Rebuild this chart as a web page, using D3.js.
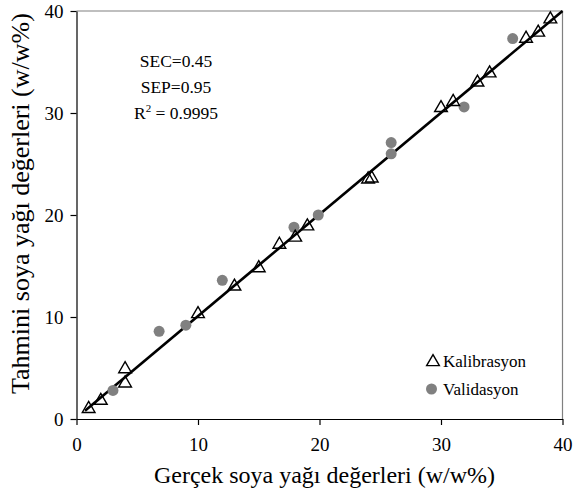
<!DOCTYPE html>
<html>
<head>
<meta charset="utf-8">
<script src="https://cdn.jsdelivr.net/npm/d3@7"></script>
<style>
  html, body { margin: 0; padding: 0; background: #fff; }
  svg { display: block; }
  text { font-family: "Liberation Serif", "Times New Roman", serif; fill: #000; }
</style>
</head>
<body>
<svg id="chart" width="582" height="494"></svg>
<script>
// Calibration set: [actual, predicted]
const kalibrasyon = [
  [1, 1.0], [2, 1.8], [4, 4.9], [4, 3.5], [10, 10.3], [13, 13.0], [15, 14.8],
  [16.7, 17.1], [18, 17.8], [19, 18.9], [24, 23.5], [24.3, 23.6], [30, 30.5],
  [31, 31.1], [33, 33.0], [34, 33.9], [37, 37.3], [38, 37.9], [39, 39.2]
];
// Validation set: [actual, predicted]
const validasyon = [
  [3, 2.8], [6.8, 8.6], [9, 9.2], [12, 13.6], [17.9, 18.8], [19.9, 20.0],
  [25.9, 26.0], [25.9, 27.1], [31.9, 30.6], [35.9, 37.3]
];
// Fitted regression line y = a + b x over its drawn range
const fitIntercept = 0.12;
const fitSlope = 0.997;
const fitRange = [0.7, 40];

const xTicks = [0, 10, 20, 30, 40];
const yTicks = [0, 10, 20, 30, 40];
const statLines = ["SEC=0.45", "SEP=0.95"];
const r2Value = "0.9995";
const legendNames = ["Kalibrasyon", "Validasyon"];
const xTitle = "Gerçek soya yağı değerleri (w/w%)";
const yTitle = "Tahmini soya yağı değerleri (w/w%)";

const svg = d3.select("#chart");
const L = 76.5, R = 562.5, T = 11, B = 419;

const x = d3.scaleLinear().domain([0, 40]).range([L, R]);
const y = d3.scaleLinear().domain([0, 40]).range([B, T]);

// Frame: top and right in gray
svg.append("path")
  .attr("d", `M${L},${T}H${R}V${B}`)
  .attr("fill", "none").attr("stroke", "#808080").attr("stroke-width", 1.2);

// Axes
const xAxis = svg.append("g").attr("transform", `translate(0,${B})`)
  .call(d3.axisBottom(x).tickValues(xTicks).tickSize(6).tickPadding(13).tickSizeOuter(0));
const yAxis = svg.append("g").attr("transform", `translate(${L},0)`)
  .call(d3.axisLeft(y).tickValues(yTicks).tickSize(6).tickPadding(7).tickSizeOuter(0));
[xAxis, yAxis].forEach(g => {
  g.select(".domain").attr("stroke", "#000").attr("stroke-width", 1.2);
  g.selectAll(".tick line").attr("stroke", "#000").attr("stroke-width", 1.2);
  g.selectAll(".tick text")
    .style("font-family", '"Liberation Serif", "Times New Roman", serif')
    .style("font-size", "19px").attr("fill", "#000");
});
yAxis.selectAll(".tick text").attr("dy", "0.35em");

// Axis titles
svg.append("text")
  .attr("x", (L + R) / 2 + 5).attr("y", 483)
  .attr("text-anchor", "middle").style("font-size", "24px")
  .text(xTitle);
svg.append("text")
  .attr("transform", `translate(29,394) rotate(-90)`)
  .attr("text-anchor", "start").style("font-size", "26px")
  .text(yTitle);

// Regression line
svg.append("line")
  .attr("x1", x(fitRange[0])).attr("y1", y(fitIntercept + fitSlope * fitRange[0]))
  .attr("x2", x(fitRange[1])).attr("y2", y(fitIntercept + fitSlope * fitRange[1]))
  .attr("stroke", "#000").attr("stroke-width", 2.6);

// Validation points
svg.append("g").selectAll("circle").data(validasyon).join("circle")
  .attr("cx", d => x(d[0])).attr("cy", d => y(d[1]))
  .attr("r", 5.5).attr("fill", "#808080");

// Calibration points (open triangles)
const tri = d3.symbol().type(d3.symbolTriangle).size(70);
svg.append("g").selectAll("path").data(kalibrasyon).join("path")
  .attr("d", tri)
  .attr("transform", d => `translate(${x(d[0])},${y(d[1])})`)
  .attr("fill", "none").attr("stroke", "#000").attr("stroke-width", 1.4);

// Statistics
const stats = svg.append("g").style("font-size", "17.5px").attr("text-anchor", "middle");
statLines.forEach((s, i) => {
  stats.append("text").attr("x", 176).attr("y", 67 + i * 26).text(s);
});
const r2 = stats.append("text").attr("x", 176).attr("y", 119);
r2.append("tspan").text("R");
r2.append("tspan").attr("dy", -7).style("font-size", "11px").text("2");
r2.append("tspan").attr("dy", 7).text(" = " + r2Value);

// Legend
const leg = svg.append("g").style("font-size", "17px");
leg.append("path").attr("d", tri)
  .attr("transform", "translate(433,362)")
  .attr("fill", "none").attr("stroke", "#000").attr("stroke-width", 1.4);
leg.append("circle").attr("cx", 431.5).attr("cy", 389).attr("r", 5.5).attr("fill", "#808080");
leg.append("text").attr("x", 443).attr("y", 367).text(legendNames[0]);
leg.append("text").attr("x", 443).attr("y", 395).text(legendNames[1]);
</script>
</body>
</html>
